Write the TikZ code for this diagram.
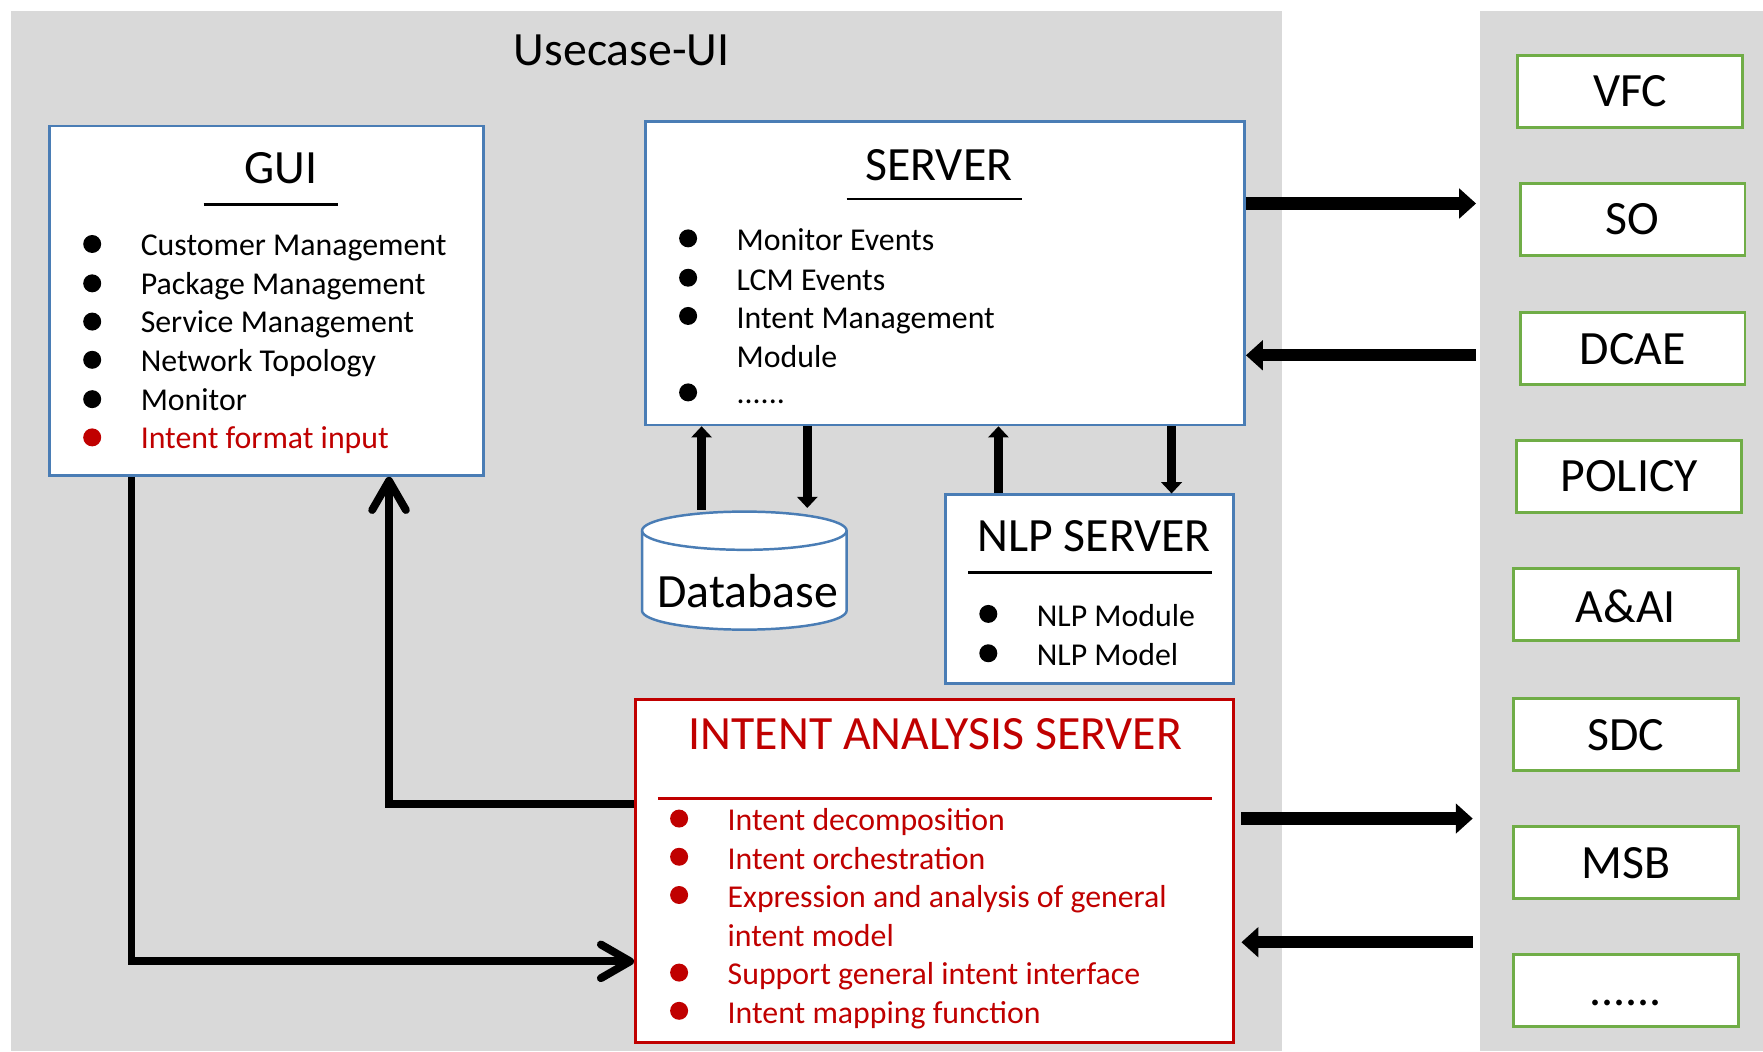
\documentclass[tikz,border=0pt]{standalone}
\usepackage{fontspec}
\setmainfont{Carlito}
\usetikzlibrary{arrows.meta}
\definecolor{panelgray}{HTML}{D9D9D9}
\definecolor{boxblue}{HTML}{4A7DB5}
\definecolor{boxgreen}{HTML}{70AD47}
\definecolor{darkred}{HTML}{C00000}
\newcommand\TitleTxt{\fontsize{42.5}{50}\selectfont}
\newcommand\ItemTxt{\fontsize{28.3}{34}\selectfont}
\begin{document}
\begin{tikzpicture}[x=1pt,y=-1pt,
  panelnode/.style={fill=panelgray, draw=none, inner sep=0pt},
  bluebox/.style={draw=boxblue, line width=2.2pt, fill=white, inner sep=0pt},
  redbox/.style={draw=darkred, line width=2.2pt, fill=white, inner sep=0pt},
  extbox/.style={draw=boxgreen, line width=2.6pt, fill=white, inner sep=0pt,
     minimum width=200pt, minimum height=64pt},
  titletext/.style={font=\TitleTxt, inner sep=0pt, anchor=base},
  itemtext/.style={font=\ItemTxt, inner sep=0pt, anchor=base west},
  dot/.style={circle, fill, inner sep=0pt, minimum size=16pt},
  bigarrow/.style={line width=11pt, -{Triangle[width=26pt,length=15pt]}},
  midarrow/.style={line width=7.5pt, -{Triangle[width=18pt,length=10pt]}},
  openarrow/.style={line width=7pt, -{Straight Barb[length=26pt,width=30pt,round]}},
]
\useasboundingbox (0,0) rectangle (1568,935);

% panels
\node[panelnode, minimum width=1130pt, minimum height=925pt] (ucui) at (575,472.5) {};
\node[panelnode, minimum width=252pt, minimum height=925pt] (ext) at (1442,472.5) {};
\node[titletext] (ucuiT) at (553,58.5) {Usecase-UI};

% GUI
\node[bluebox, minimum width=386pt, minimum height=311pt] (gui) at (237,267.5) {};
\node[titletext] (guiT) at (250,163.5) {GUI};
\draw[line width=2.5pt] (181,182) -- (301,182);
\node[dot] (gb1) at (82,217) {};
\node[dot] (gb2) at (82,252) {};
\node[dot] (gb3) at (82,286) {};
\node[dot] (gb4) at (82,320) {};
\node[dot] (gb5) at (82,355) {};
\node[dot, darkred] (gb6) at (82,389) {};
\node[itemtext] (gi1) at (125,227) {Customer Management};
\node[itemtext] (gi2) at (125,262) {Package Management};
\node[itemtext] (gi3) at (125,296) {Service Management};
\node[itemtext] (gi4) at (125,330) {Network Topology};
\node[itemtext] (gi5) at (125,365) {Monitor};
\node[itemtext, text=darkred] (gi6) at (125,399) {Intent format input};

% SERVER
\node[bluebox, minimum width=533pt, minimum height=270pt] (server) at (840.5,243) {};
\node[titletext] (serverT) at (835,160.5) {SERVER};
\draw[line width=2.5pt] (753,177) -- (909,177);
\node[dot] (sb1) at (612,212) {};
\node[dot] (sb2) at (612,247) {};
\node[dot] (sb3) at (612,281) {};
\node[dot] (sb4) at (612,349) {};
\node[itemtext] (si1) at (655,223) {Monitor Events};
\node[itemtext] (si2) at (655,258) {LCM Events};
\node[itemtext] (si3) at (655,292) {Intent Management};
\node[itemtext] (si3b) at (655,327) {Module};
\node[itemtext] (si4) at (655,359) {......};

% Database
\node[inner sep=0pt, minimum width=182pt, minimum height=105pt] (db) at (662,507.5) {};
\filldraw[fill=white, draw=boxblue, line width=2.2pt]
  (571,472) -- (571,543) arc (180:0:91 and 17) -- (753,472) arc (0:-180:91 and 17) -- cycle;
\draw[boxblue, line width=2.2pt] (571,472) arc (180:0:91 and 17);
\node[titletext] (dbT) at (665,540.5) {Database};

% NLP SERVER
\node[bluebox, minimum width=256pt, minimum height=168pt] (nlp) at (969,524) {};
\node[titletext] (nlpT) at (973,490.5) {NLP SERVER};
\draw[line width=2.5pt] (861,509) -- (1078,509);
\node[dot] (nb1) at (879,546) {};
\node[dot] (nb2) at (879,581) {};
\node[itemtext] (ni1) at (922,557) {NLP Module};
\node[itemtext] (ni2) at (922,592) {NLP Model};

% INTENT ANALYSIS SERVER
\node[redbox, minimum width=532pt, minimum height=305pt] (ias) at (831,774.5) {};
\node[titletext, text=darkred] (iasT) at (832,666.5) {INTENT ANALYSIS SERVER};
\draw[darkred, line width=2.5pt] (585,710) -- (1078,710);
\node[dot, darkred] (ib1) at (604,728) {};
\node[dot, darkred] (ib2) at (604,762) {};
\node[dot, darkred] (ib3) at (604,796) {};
\node[dot, darkred] (ib4) at (604,865) {};
\node[dot, darkred] (ib5) at (604,899) {};
\node[itemtext, text=darkred] (ii1) at (647,739) {Intent decomposition};
\node[itemtext, text=darkred] (ii2) at (647,773) {Intent orchestration};
\node[itemtext, text=darkred] (ii3) at (647,807) {Expression and analysis of general};
\node[itemtext, text=darkred] (ii3b) at (647,842) {intent model};
\node[itemtext, text=darkred] (ii4) at (647,876) {Support general intent interface};
\node[itemtext, text=darkred] (ii5) at (647,910) {Intent mapping function};

% external components
\node[extbox] (vfc) at (1450,81) {};
\node[extbox] (so) at (1452,195) {};
\node[extbox] (dcae) at (1452,310) {};
\node[extbox] (policy) at (1449,424) {};
\node[extbox] (aai) at (1446,538) {};
\node[extbox] (sdc) at (1446,653) {};
\node[extbox] (msb) at (1446,767) {};
\node[extbox] (more) at (1446,881) {};
\node[titletext] (vfcT) at (1450,94.5) {VFC};
\node[titletext] (soT) at (1452,208.5) {SO};
\node[titletext] (dcaeT) at (1452,324.5) {DCAE};
\node[titletext] (policyT) at (1449,437.5) {POLICY};
\node[titletext] (aaiT) at (1446,553.5) {A\&AI};
\node[titletext] (sdcT) at (1446,667.5) {SDC};
\node[titletext] (msbT) at (1446,781.5) {MSB};
\node[titletext] (moreT) at (1446,894.5) {......};

% connectors
\draw[bigarrow, shorten >=3pt] (server.east |- 0,181) -- (ext.west |- 0,181);
\draw[bigarrow, shorten <=3pt] (ext.west |- 0,316) -- (server.east |- 0,316);
\draw[bigarrow, shorten <=6pt, shorten >=6pt] (ias.east |- 0,728) -- (ext.west |- 0,728);
\draw[bigarrow, shorten <=6pt, shorten >=6pt] (ext.west |- 0,838) -- (ias.east |- 0,838);

\draw[midarrow, shorten <=1.5pt] (db.north -| 624,0) -- (server.south -| 624,0);
\draw[midarrow, shorten >=3pt] (server.south -| 718,0) -- (db.north -| 718,0);
\draw[midarrow] (nlp.north -| 888,0) -- (server.south -| 888,0);
\draw[midarrow] (server.south -| 1042,0) -- (nlp.north -| 1042,0);

\draw[openarrow] (gui.south -| 117,0) |- (ias.west |- 0,855);
\draw[openarrow] (ias.west |- 0,715) -| (gui.south -| 346,0);
\end{tikzpicture}
\end{document}
